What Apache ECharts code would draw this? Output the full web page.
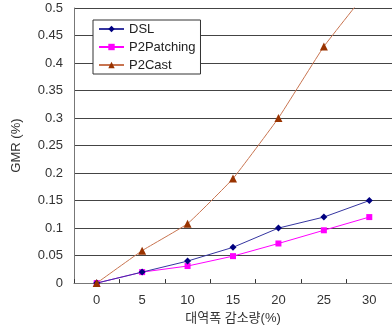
<!DOCTYPE html>
<html>
<head>
<meta charset="utf-8">
<script src="https://cdn.jsdelivr.net/npm/echarts@6/dist/echarts.min.js"></script>
<style>
  html, body { margin: 0; padding: 0; background: #fff; }
  #chart { width: 392px; height: 330px; }
</style>
</head>
<body>
<div id="chart"></div>
<script>
// Bandwidth reduction (%) on the x axis
const categories = ['0', '5', '10', '15', '20', '25', '30'];
// GMR (%) per scheme
const dslValues = [0, 0.02, 0.04, 0.065, 0.1, 0.12, 0.15];
const p2pPatchingValues = [0, 0.02, 0.031, 0.049, 0.072, 0.096, 0.12];
const p2CastValues = [0, 0.059, 0.108, 0.19, 0.3, 0.43, 0.535];
const yTicks = { min: 0, max: 0.5, step: 0.05 };

const font = '"Liberation Sans", Arial, "Noto Sans CJK KR", sans-serif';

const chart = echarts.init(document.getElementById('chart'), null, { renderer: 'canvas' });
chart.setOption({
  animation: false,
  backgroundColor: '#ffffff',
  grid: { left: 74, right: -2, top: 8, bottom: 42, containLabel: false },
  legend: {
    orient: 'vertical',
    left: 93,
    top: 20,
    backgroundColor: '#ffffff',
    borderColor: '#333333',
    borderWidth: 1,
    padding: [2, 5, 2, 5],
    itemWidth: 25,
    itemHeight: 8,
    itemGap: 4,
    textStyle: { fontFamily: font, fontSize: 13, color: '#222', lineHeight: 14 },
    data: ['DSL', 'P2Patching', 'P2Cast']
  },
  xAxis: {
    type: 'category',
    data: categories,
    boundaryGap: true,
    name: '대역폭 감소량(%)',
    nameLocation: 'middle',
    nameGap: 28,
    nameTextStyle: { fontFamily: font, fontSize: 13, color: '#333' },
    axisLine: { lineStyle: { color: '#777', width: 1 } },
    axisTick: { show: true, inside: true, length: 4, lineStyle: { color: '#333' } },
    axisLabel: { fontFamily: font, fontSize: 13, color: '#333', margin: 11 },
    splitLine: { show: false }
  },
  yAxis: {
    type: 'value',
    min: yTicks.min,
    max: yTicks.max,
    interval: yTicks.step,
    name: 'GMR (%)',
    nameLocation: 'middle',
    nameGap: 51,
    nameRotate: 90,
    nameTextStyle: { fontFamily: font, fontSize: 13, color: '#333' },
    axisLine: { show: true, lineStyle: { color: '#777', width: 1 } },
    axisTick: { show: false },
    axisLabel: { fontFamily: font, fontSize: 13, color: '#333', margin: 11 },
    splitLine: { show: true, lineStyle: { color: '#444', width: 1 } }
  },
  series: [
    {
      name: 'DSL',
      type: 'line',
      data: dslValues,
      symbol: 'diamond',
      symbolSize: 7,
      showAllSymbol: true,
      itemStyle: { color: '#000080' },
      lineStyle: { color: '#3535a0', width: 1 },
      z: 3
    },
    {
      name: 'P2Patching',
      type: 'line',
      data: p2pPatchingValues,
      symbol: 'rect',
      symbolSize: 6,
      showAllSymbol: true,
      itemStyle: { color: '#ff00ff' },
      lineStyle: { color: '#ff00ff', width: 1 },
      z: 2
    },
    {
      name: 'P2Cast',
      type: 'line',
      data: p2CastValues,
      symbol: 'triangle',
      symbolSize: 8,
      showAllSymbol: true,
      smooth: 0.1,
      clip: true,
      itemStyle: { color: '#993300' },
      lineStyle: { color: '#c87450', width: 1 },
      z: 4
    }
  ]
});
</script>
</body>
</html>
